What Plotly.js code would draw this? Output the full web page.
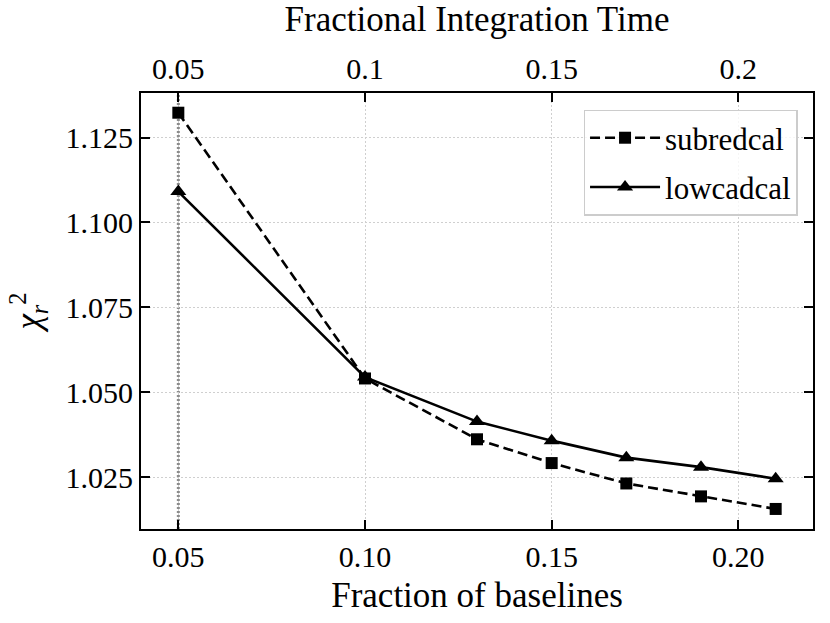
<!DOCTYPE html>
<html>
<head>
<meta charset="utf-8">
<script src="https://cdn.plot.ly/plotly-3.0.1.min.js"></script>
<style>
  html, body { margin: 0; padding: 0; background: white; }
  #chart { width: 830px; height: 623px; }
  /* force the serif face on every svg text node */
  #chart svg text, #chart svg tspan { font-family: 'Liberation Serif', serif !important; }
</style>
</head>
<body>
<div id="chart"></div>
<script>
// fraction of baselines (bottom axis)
const fractions = [0.05, 0.10, 0.13, 0.15, 0.17, 0.19, 0.21];

// reduced chi-square per calibration scheme
const subredcal = [1.1323, 1.0541, 1.0362, 1.0292, 1.0232, 1.0194, 1.0157];
const lowcadcal = [1.1091, 1.0545, 1.0414, 1.0358, 1.0308, 1.0280, 1.0246];

// tick labels
const bottom_ticks = [0.05, 0.10, 0.15, 0.20];
const bottom_text  = ['0.05', '0.10', '0.15', '0.20'];
const top_ticks    = [0.05, 0.10, 0.15, 0.20];
const top_text     = ['0.05', '0.1', '0.15', '0.2'];
const y_ticks      = [1.025, 1.050, 1.075, 1.100, 1.125];
const y_text       = ['1.025', '1.050', '1.075', '1.100', '1.125'];

// highlighted fraction (vertical dotted line)
const marked_fraction = 0.05;

///////////////////////////////////////////////////////////////////////////////
const font_family = 'Liberation Serif';
const x_range = [0.04, 0.22];
const y_range = [1.0098, 1.1381];

let traces = [];

traces.push({
    x: fractions, y: subredcal,
    name: 'subredcal',
    mode: 'lines+markers',
    line: {color: 'black', width: 2.6, dash: '10px,5px'},
    marker: {symbol: 'square', size: 12, color: 'black'},
    legendgroup: 'a',
    hoverinfo: 'skip',
});

traces.push({
    x: fractions, y: lowcadcal,
    name: 'lowcadcal',
    mode: 'lines+markers',
    line: {color: 'black', width: 2.6},
    marker: {symbol: 'triangle-up', size: 14, color: 'black'},
    legendgroup: 'b',
    hoverinfo: 'skip',
});

// invisible copy so the top axis gets drawn
traces.push({
    x: fractions, y: subredcal,
    xaxis: 'x2',
    mode: 'markers',
    marker: {opacity: 0},
    showlegend: false,
    hoverinfo: 'skip',
});

function axis_base() {
    return {
        ticks: 'inside',
        ticklen: 9,
        tickwidth: 1.8,
        tickcolor: 'black',
        showline: true,
        linecolor: 'black',
        linewidth: 2,
        zeroline: false,
        tickfont: {size: 30, color: 'black'},
    };
}

let layout = {
    width: 830, height: 623,
    margin: {l: 141, r: 17, t: 93, b: 94},
    paper_bgcolor: 'white',
    plot_bgcolor: 'white',
    font: {family: font_family, size: 30, color: 'black'},
    showlegend: true,
    legend: {
        x: 0.977, y: 0.962,
        xanchor: 'right', yanchor: 'top',
        bgcolor: 'rgba(255,255,255,0.8)',
        bordercolor: '#cccccc',
        borderwidth: 1.5,
        font: {size: 31, color: 'black'},
        itemwidth: 70,
        tracegroupgap: 6,
        traceorder: 'grouped',
    },
    xaxis: Object.assign(axis_base(), {
        range: x_range,
        tickvals: bottom_ticks,
        ticktext: bottom_text,
        showgrid: true,
        gridcolor: '#cfcfcf',
        griddash: '1.5px,2.5px',
        gridwidth: 1.2,
        title: {text: 'Fraction of baselines', standoff: 10,
                font: {size: 35, color: 'black'}},
    }),
    xaxis2: Object.assign(axis_base(), {
        range: x_range,
        overlaying: 'x',
        side: 'top',
        anchor: 'y',
        tickvals: top_ticks,
        ticktext: top_text,
        showgrid: false,
        title: {text: 'Fractional Integration Time', standoff: 10,
                font: {size: 35, color: 'black'}},
    }),
    yaxis: Object.assign(axis_base(), {
        range: y_range,
        tickvals: y_ticks,
        ticktext: y_text,
        mirror: 'ticks',
        showgrid: true,
        gridcolor: '#cfcfcf',
        griddash: '1.5px,2.5px',
        gridwidth: 1.2,
        title: {text: '<i>χ</i><sub><i>r</i></sub><sup>2</sup>', standoff: 14,
                font: {size: 35, color: 'black'}},
    }),
    shapes: [{
        type: 'line', xref: 'x', yref: 'paper',
        x0: marked_fraction, x1: marked_fraction, y0: 0, y1: 1,
        line: {color: '#8c8c8c', width: 3, dash: '2px,2px'},
        layer: 'below',
    }],
};

let plot_container = document.getElementById('chart');
Plotly.newPlot(plot_container, traces, layout, {displayModeBar: false});
</script>
</body>
</html>
